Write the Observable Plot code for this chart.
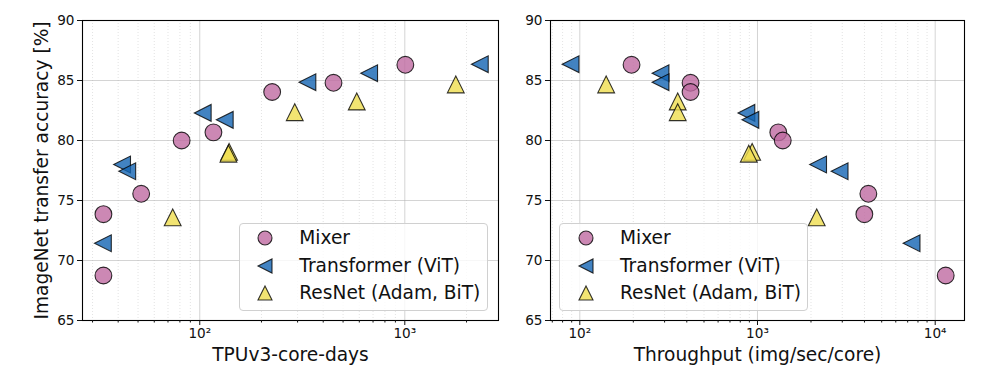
<!DOCTYPE html>
<html>
<head>
<meta charset="utf-8">
<script src="https://cdn.jsdelivr.net/npm/d3@7"></script>
<script src="https://cdn.jsdelivr.net/npm/@observablehq/plot@0.6"></script>
<style>
  html, body { margin: 0; padding: 0; background: #fff; }
  #wrap { position: relative; width: 988px; height: 382px; font-family: "DejaVu Sans", sans-serif; }
  .panel { position: absolute; top: 0; }
  .legend { position: absolute; background: rgba(255,255,255,0.8); border: 1px solid #d0d0d0; border-radius: 4px; box-sizing: border-box; }
  .row { position: absolute; left: 0; height: 20px; display: flex; align-items: center; font-size: 18.6px; color: #111; white-space: nowrap; }
  .row svg { position: absolute; }
</style>
</head>
<body>
<div id="wrap"></div>
<script>
// ---- data ----
const series = ["Mixer", "Transformer (ViT)", "ResNet (Adam, BiT)"];
const colors = ["#bf6aa1", "#1364b3", "#efdd4f"];

const mixerAcc  = [86.31, 84.81, 84.04, 80.68, 80.0, 75.56, 73.86, 68.75];
const mixerCost = [1006, 449, 225.5, 116.6, 81.6, 51.8, 33.9, 33.9];
const mixerThr  = [195.5, 420, 420, 1309, 1387, 4206, 3993, 11460];

const vitAcc  = [86.36, 85.61, 84.86, 82.3, 81.72, 78.0, 77.44, 71.44];
const vitCost = [2322, 670, 335, 103.4, 132.4, 41.8, 44.3, 33.7];
const vitThr  = [88.7, 284.6, 284.6, 866, 912, 2193, 2898, 7364];

const resAcc  = [84.67, 83.25, 82.36, 79.05, 78.9, 73.6];
const resCost = [1773, 583, 290.6, 139, 138, 73.8];
const resThr  = [140.7, 355.6, 355.6, 933, 893, 2154];

const yTicks = [65, 70, 75, 80, 85, 90];
const leftMajor = [100, 1000];
const rightMajor = [100, 1000, 10000];

// ---- build table ----
const rows = [];
[[mixerAcc, mixerCost, mixerThr], [vitAcc, vitCost, vitThr], [resAcc, resCost, resThr]]
  .forEach(([acc, cost, thr], s) => acc.forEach((a, i) => rows.push({series: series[s], acc: a, cost: cost[i], thr: thr[i]})));

// matplotlib-like markers
const triUp = { draw(ctx, size) { const r = Math.sqrt(size / Math.PI); ctx.moveTo(0, -r); ctx.lineTo(-r, r); ctx.lineTo(r, r); ctx.closePath(); } };
const triLeft = { draw(ctx, size) { const r = Math.sqrt(size / Math.PI); ctx.moveTo(-r, 0); ctx.lineTo(r, -r); ctx.lineTo(r, r); ctx.closePath(); } };
const symbols = ["circle", triLeft, triUp];

function minorTicks(lo, hi) {
  const out = [];
  for (let e = Math.floor(Math.log10(lo)); e <= Math.ceil(Math.log10(hi)); e++)
    for (let m = 2; m <= 9; m++) { const v = m * Math.pow(10, e); if (v >= lo && v <= hi) out.push(v); }
  return out;
}
const supDigits = {"0":"⁰","1":"¹","2":"²","3":"³","4":"⁴","5":"⁵","6":"⁶","7":"⁷","8":"⁸","9":"⁹"};
const fmtPow = d => "10" + String(Math.round(Math.log10(d))).split("").map(c => supDigits[c]).join("");

function panel({xKey, width, marginLeft, marginRight, domain, major, xlabel, ylabel}) {
  const minor = minorTicks(domain[0], domain[1]);
  const marks = [
    Plot.gridY(yTicks, {stroke: "#b0b0b0", strokeOpacity: 0.55, strokeWidth: 1}),
    Plot.gridX(minor, {stroke: "#b0b0b0", strokeOpacity: 0.45, strokeDasharray: "1,2", strokeWidth: 0.8}),
    Plot.gridX(major, {stroke: "#b0b0b0", strokeOpacity: 0.55, strokeWidth: 1}),
    ...series.map((s, i) => Plot.dot(rows.filter(d => d.series === s), {
      x: xKey, y: "acc", r: 8.4, symbol: () => symbols[i], fill: colors[i], fillOpacity: 0.8,
      stroke: "black", strokeOpacity: 0.8, strokeWidth: 1.1
    })),
    Plot.frame({stroke: "black", strokeWidth: 1.1}),
    Plot.axisY({ticks: yTicks, tickSize: 5, tickPadding: 3, label: null, fontSize: 13.6}),
    Plot.axisX({ticks: major, tickFormat: fmtPow, tickSize: 5, tickPadding: 3, label: null, fontSize: 13.6}),
    Plot.axisX({ticks: minor, tickFormat: () => "", tickSize: 2.5, label: null}),
    Plot.text([xlabel], {frameAnchor: "bottom", dy: 40, text: d => d, fontSize: 18.6, fill: "#111"})
  ];
  if (ylabel) marks.push(Plot.text([ylabel], {frameAnchor: "left", dx: -40, rotate: -90, textAnchor: "middle", text: d => d, fontSize: 18.6, fill: "#111"}));
  return Plot.plot({
    width, height: 382, marginTop: 20, marginBottom: 62, marginLeft, marginRight,
    style: {fontFamily: "DejaVu Sans, sans-serif", fontSize: "13.6px", color: "#111", background: "white", overflow: "visible"},
    x: {type: "log", domain},
    y: {domain: [65, 90]},
    marks
  });
}

const wrap = document.getElementById("wrap");
const left = panel({xKey: "cost", width: 505, marginLeft: 82, marginRight: 7, domain: [26.8, 2864], major: leftMajor,
  xlabel: "TPUv3-core-days", ylabel: "ImageNet transfer accuracy [%]"});
left.classList.add("panel"); left.style.left = "0px";
const right = panel({xKey: "thr", width: 483, marginLeft: 45, marginRight: 24, domain: [68.4, 14620], major: rightMajor,
  xlabel: "Throughput (img/sec/core)"});
right.classList.add("panel"); right.style.left = "505px";
wrap.appendChild(left); wrap.appendChild(right);

// legends
function markerSvg(i) {
  const r = 7;
  let shape;
  if (i === 0) shape = `<circle cx="10" cy="10" r="${r}"/>`;
  else if (i === 1) shape = `<path d="M${10 - r},10L${10 + r},${10 - r}L${10 + r},${10 + r}Z"/>`;
  else shape = `<path d="M10,${10 - r}L${10 - r},${10 + r}L${10 + r},${10 + r}Z"/>`;
  return `<svg width="20" height="20" style="left:-10px;top:0"><g fill="${colors[i]}" fill-opacity="0.8" stroke="black" stroke-opacity="0.8" stroke-width="1.1">${shape}</g></svg>`;
}
function legend(x0, x1, markerX, textX) {
  const div = document.createElement("div");
  div.className = "legend";
  div.style.left = x0 + "px"; div.style.top = "222.5px";
  div.style.width = (x1 - x0) + "px"; div.style.height = "88px";
  const rowY = [237.7, 265.7, 293.3];
  series.forEach((s, i) => {
    const row = document.createElement("div");
    row.className = "row";
    row.style.top = (rowY[i] - 222.5 - 10 - 1) + "px";
    row.style.left = (markerX - x0 - 1) + "px";
    row.innerHTML = markerSvg(i) + `<span style="position:absolute;left:${textX - markerX}px;top:0px;line-height:20px">${s}</span>`;
    div.appendChild(row);
  });
  wrap.appendChild(div);
}
legend(238.7, 487.7, 265, 299.3);
legend(559.3, 808.3, 585.7, 620);
</script>
</body>
</html>
